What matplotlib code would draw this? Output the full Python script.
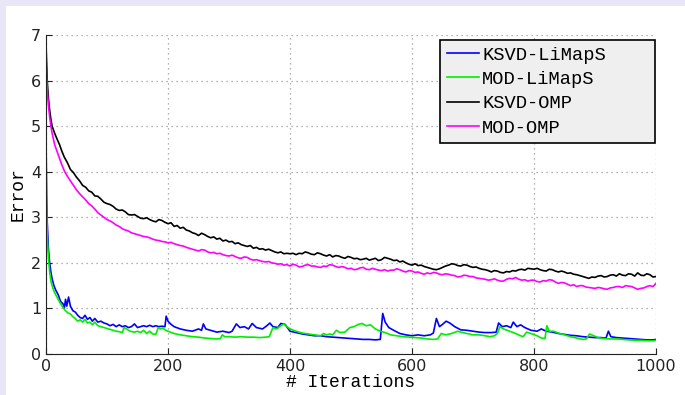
import matplotlib
matplotlib.use("Agg")
import matplotlib.pyplot as plt
from matplotlib.patches import Rectangle

# KSVD-LiMapS (blue)
ksvd_limaps_x = [0, 1, 2, 4, 6, 8, 10, 13, 16, 20, 24, 28, 30, 32, 34, 37, 40, 44, 48, 52,
                 56, 60, 64, 68, 72, 76, 80, 85, 90, 95, 100, 105, 110, 115, 120, 125, 130,
                 135, 140, 145, 150, 155, 160, 165, 170, 175, 180, 185, 190, 195, 197, 200,
                 205, 210, 220, 230, 240, 250, 255, 258, 262, 270, 280, 290, 300, 305, 312,
                 318, 325, 332, 338, 345, 355, 362, 367, 372, 380, 385, 392, 400, 410, 420,
                 430, 440, 450, 460, 470, 480, 490, 500, 510, 520, 530, 540, 548, 552, 556,
                 562, 570, 580, 590, 600, 610, 620, 630, 635, 640, 645, 650, 656, 662, 670,
                 680, 690, 700, 710, 720, 730, 738, 742, 748, 755, 762, 766, 772, 778, 785,
                 795, 805, 812, 820, 830, 840, 850, 860, 870, 880, 890, 900, 910, 918, 922,
                 926, 935, 945, 955, 965, 975, 985, 995, 1000]
ksvd_limaps_y = [4.8, 3.5, 2.9, 2.3, 2.0, 1.8, 1.65, 1.5, 1.4, 1.3, 1.15, 1.1, 1.0, 1.2, 1.05,
                 1.25, 1.05, 0.95, 0.92, 0.85, 0.8, 0.78, 0.85, 0.76, 0.8, 0.72, 0.78, 0.7,
                 0.72, 0.68, 0.66, 0.62, 0.65, 0.6, 0.64, 0.6, 0.62, 0.58, 0.6, 0.66, 0.58,
                 0.6, 0.62, 0.6, 0.63, 0.6, 0.62, 0.6, 0.61, 0.6, 0.83, 0.72, 0.65, 0.6,
                 0.55, 0.52, 0.5, 0.55, 0.52, 0.66, 0.55, 0.52, 0.48, 0.5, 0.47, 0.5, 0.66,
                 0.58, 0.6, 0.55, 0.67, 0.58, 0.55, 0.62, 0.68, 0.6, 0.58, 0.67, 0.65, 0.5,
                 0.47, 0.44, 0.42, 0.4, 0.4, 0.38, 0.37, 0.36, 0.35, 0.34, 0.33, 0.32, 0.32,
                 0.31, 0.32, 0.89, 0.7, 0.58, 0.52, 0.45, 0.42, 0.4, 0.42, 0.4, 0.42, 0.46,
                 0.78, 0.6, 0.65, 0.72, 0.68, 0.6, 0.53, 0.52, 0.5, 0.48, 0.47, 0.47, 0.48,
                 0.68, 0.6, 0.62, 0.58, 0.7, 0.6, 0.64, 0.58, 0.52, 0.5, 0.55, 0.5, 0.48,
                 0.45, 0.43, 0.41, 0.4, 0.38, 0.37, 0.36, 0.36, 0.35, 0.5, 0.38, 0.36, 0.35,
                 0.34, 0.33, 0.32, 0.31, 0.31, 0.32]

# MOD-LiMapS (green)
mod_limaps_x = [0, 1, 2, 4, 6, 8, 10, 13, 16, 20, 24, 28, 32, 36, 40, 44, 48, 52, 56, 60, 64,
                68, 72, 76, 80, 85, 90, 95, 100, 105, 110, 115, 120, 125, 128, 132, 138, 145,
                150, 155, 160, 165, 170, 175, 180, 184, 188, 192, 196, 200, 210, 220, 230,
                240, 250, 260, 270, 280, 286, 289, 293, 300, 310, 320, 330, 340, 350, 360,
                366, 372, 378, 385, 390, 395, 400, 410, 420, 430, 440, 450, 455, 460, 465,
                470, 476, 482, 490, 498, 505, 512, 518, 525, 532, 540, 548, 556, 565, 575,
                585, 595, 605, 615, 625, 635, 642, 648, 655, 665, 675, 680, 690, 700, 710,
                720, 728, 735, 740, 744, 750, 760, 770, 778, 782, 788, 795, 805, 812, 818,
                821, 825, 832, 840, 850, 860, 870, 880, 886, 891, 898, 905, 913, 925, 935,
                945, 955, 965, 975, 985, 995, 1000]
mod_limaps_y = [4.4, 3.2, 2.6, 2.1, 1.8, 1.6, 1.5, 1.38, 1.3, 1.2, 1.1, 1.02, 0.95, 0.9, 0.88,
                0.82, 0.78, 0.72, 0.75, 0.7, 0.76, 0.68, 0.7, 0.64, 0.7, 0.62, 0.6, 0.58,
                0.56, 0.54, 0.52, 0.5, 0.49, 0.47, 0.58, 0.55, 0.5, 0.48, 0.5, 0.47, 0.52,
                0.45, 0.5, 0.44, 0.43, 0.58, 0.55, 0.57, 0.52, 0.5, 0.45, 0.42, 0.4, 0.38,
                0.37, 0.35, 0.34, 0.33, 0.34, 0.42, 0.38, 0.38, 0.37, 0.38, 0.37, 0.37, 0.36,
                0.37, 0.38, 0.58, 0.55, 0.62, 0.66, 0.6, 0.55, 0.5, 0.46, 0.44, 0.42, 0.4,
                0.45, 0.42, 0.44, 0.42, 0.52, 0.47, 0.48, 0.58, 0.6, 0.65, 0.67, 0.62, 0.64,
                0.55, 0.5, 0.47, 0.42, 0.4, 0.38, 0.37, 0.36, 0.35, 0.33, 0.32, 0.33, 0.45,
                0.42, 0.45, 0.5, 0.48, 0.45, 0.42, 0.42, 0.4, 0.38, 0.4, 0.45, 0.6, 0.55,
                0.5, 0.45, 0.4, 0.38, 0.48, 0.45, 0.4, 0.35, 0.34, 0.62, 0.5, 0.5, 0.46,
                0.42, 0.38, 0.35, 0.32, 0.33, 0.44, 0.4, 0.36, 0.34, 0.33, 0.33, 0.32, 0.31,
                0.3, 0.3, 0.29, 0.29, 0.3]

# KSVD-OMP (black) and MOD-OMP (magenta) share the same iteration samples
omp_x = [0, 2, 4, 6, 8, 10, 14, 18, 22, 26, 30, 35, 40, 45, 50, 55] + list(range(60, 1001, 5))
ksvd_omp_y = [6.8, 6.0, 5.6, 5.35, 5.15, 5.0, 4.85, 4.72, 4.6, 4.45, 4.32, 4.2, 4.05, 3.98, 3.88, 3.8,
              3.70, 3.66, 3.58, 3.55, 3.47, 3.46, 3.40, 3.33, 3.30, 3.28,
              3.24, 3.18, 3.15, 3.16, 3.12, 3.06, 3.05, 3.06, 3.02, 2.98,
              2.97, 2.99, 2.95, 2.92, 2.90, 2.95, 2.93, 2.89, 2.86, 2.88,
              2.80, 2.82, 2.76, 2.78, 2.72, 2.70, 2.66, 2.64, 2.60, 2.65,
              2.62, 2.58, 2.55, 2.57, 2.52, 2.54, 2.48, 2.50, 2.46, 2.47,
              2.42, 2.44, 2.40, 2.38, 2.36, 2.38, 2.32, 2.34, 2.30, 2.31,
              2.28, 2.30, 2.27, 2.24, 2.22, 2.24, 2.20, 2.21, 2.20, 2.21,
              2.18, 2.21, 2.20, 2.24, 2.22, 2.19, 2.18, 2.22, 2.20, 2.17,
              2.15, 2.18, 2.13, 2.16, 2.15, 2.12, 2.10, 2.14, 2.12, 2.09,
              2.10, 2.07, 2.08, 2.10, 2.06, 2.08, 2.10, 2.05, 2.07, 2.12,
              2.10, 2.08, 2.05, 2.06, 2.02, 2.04, 2.00, 1.97, 1.95, 1.98,
              1.94, 1.95, 1.92, 1.90, 1.88, 1.86, 1.85, 1.87, 1.90, 1.93,
              1.95, 1.98, 1.97, 1.94, 1.93, 1.96, 1.95, 1.92, 1.90, 1.91,
              1.88, 1.86, 1.85, 1.83, 1.80, 1.83, 1.82, 1.79, 1.78, 1.81,
              1.80, 1.83, 1.82, 1.85, 1.86, 1.84, 1.88, 1.87, 1.86, 1.88,
              1.85, 1.83, 1.82, 1.86, 1.85, 1.82, 1.80, 1.82, 1.80, 1.77,
              1.78, 1.75, 1.74, 1.72, 1.70, 1.68, 1.66, 1.69, 1.68, 1.71,
              1.72, 1.69, 1.70, 1.73, 1.74, 1.71, 1.76, 1.73, 1.72, 1.76,
              1.75, 1.71, 1.78, 1.73, 1.72, 1.76, 1.74, 1.69, 1.70]
mod_omp_y = [6.4, 5.8, 5.45, 5.2, 5.0, 4.85, 4.6, 4.45, 4.3, 4.15, 4.02, 3.9, 3.8, 3.7, 3.6, 3.52,
             3.45, 3.38, 3.30, 3.25, 3.18, 3.10, 3.05, 3.00, 2.95, 2.92,
             2.88, 2.83, 2.80, 2.75, 2.72, 2.70, 2.66, 2.64, 2.62, 2.60,
             2.58, 2.57, 2.55, 2.52, 2.50, 2.49, 2.47, 2.46, 2.44, 2.45,
             2.42, 2.40, 2.38, 2.37, 2.34, 2.32, 2.30, 2.28, 2.26, 2.29,
             2.28, 2.24, 2.22, 2.23, 2.20, 2.21, 2.18, 2.16, 2.15, 2.17,
             2.14, 2.11, 2.10, 2.13, 2.12, 2.08, 2.06, 2.07, 2.05, 2.03,
             2.02, 2.03, 2.00, 1.99, 1.97, 1.98, 1.95, 1.96, 1.93, 1.97,
             1.95, 1.91, 1.92, 1.95, 1.96, 1.93, 1.93, 1.91, 1.90, 1.93,
             1.92, 1.96, 1.95, 1.92, 1.90, 1.92, 1.90, 1.87, 1.88, 1.85,
             1.86, 1.89, 1.90, 1.86, 1.85, 1.88, 1.86, 1.84, 1.83, 1.85,
             1.82, 1.84, 1.84, 1.87, 1.85, 1.82, 1.80, 1.83, 1.82, 1.79,
             1.80, 1.77, 1.75, 1.78, 1.76, 1.79, 1.78, 1.75, 1.74, 1.76,
             1.75, 1.73, 1.72, 1.69, 1.70, 1.73, 1.72, 1.70, 1.70, 1.67,
             1.66, 1.65, 1.64, 1.62, 1.63, 1.65, 1.62, 1.60, 1.60, 1.64,
             1.66, 1.65, 1.68, 1.64, 1.62, 1.63, 1.60, 1.62, 1.62, 1.59,
             1.58, 1.61, 1.60, 1.63, 1.62, 1.58, 1.55, 1.57, 1.56, 1.53,
             1.50, 1.52, 1.48, 1.50, 1.50, 1.47, 1.46, 1.45, 1.44, 1.46,
             1.45, 1.43, 1.42, 1.45, 1.46, 1.48, 1.48, 1.46, 1.50, 1.49,
             1.48, 1.45, 1.42, 1.44, 1.45, 1.48, 1.50, 1.48, 1.55]

x_ticks = [0, 200, 400, 600, 800, 1000]
y_ticks = [0, 1, 2, 3, 4, 5, 6, 7]

mono = "Liberation Mono"

fig = plt.figure(figsize=(6.85, 3.95), dpi=100, facecolor="#e9e7f7")
# white panel behind the plot
fig.patches.append(Rectangle((6 / 685, 0), 1, 389 / 395, transform=fig.transFigure,
                             facecolor="white", edgecolor="none", zorder=-10))

ax = fig.add_axes([46 / 685, 41 / 395, 610 / 685, 319 / 395])
ax.set_facecolor("white")

ax.plot(ksvd_limaps_x, ksvd_limaps_y, color="#0000ff", lw=1.2, label="KSVD-LiMapS")
ax.plot(mod_limaps_x, mod_limaps_y, color="#00ee00", lw=1.2, label="MOD-LiMapS")
ax.plot(omp_x, ksvd_omp_y, color="black", lw=1.2, label="KSVD-OMP")
ax.plot(omp_x, mod_omp_y, color="#ff00ff", lw=1.2, label="MOD-OMP")

ax.set_xlim(0, 1000)
ax.set_ylim(0, 7)
ax.set_xticks(x_ticks)
ax.set_yticks(y_ticks)
ax.tick_params(direction="in", length=4, labelsize=11.5, colors="#222222",
               top=False, right=False)
ax.grid(True, linestyle=(0, (1, 3)), color="#999999", linewidth=0.9)
for side in ["top", "right"]:
    ax.spines[side].set_visible(False)
for side in ["left", "bottom"]:
    ax.spines[side].set_color("#222222")

ax.set_xlabel("# Iterations", fontfamily=mono, fontsize=13, labelpad=0)
ax.set_ylabel("Error", fontfamily=mono, fontsize=13, labelpad=3)

# legend box spans a fixed area like the original (wide right padding)
leg = ax.legend(loc="upper left", bbox_to_anchor=(0.646, 0.671, 0.352, 0.313),
                mode="expand", borderaxespad=0,
                prop={"family": mono, "size": 13.5}, handlelength=1.75,
                handletextpad=0.15, labelspacing=0.38, borderpad=0.35,
                fancybox=False, framealpha=1, facecolor="#efefef", edgecolor="black")
leg.get_frame().set_linewidth(1.2)

fig.savefig("out.png", dpi=100, facecolor=fig.get_facecolor())
